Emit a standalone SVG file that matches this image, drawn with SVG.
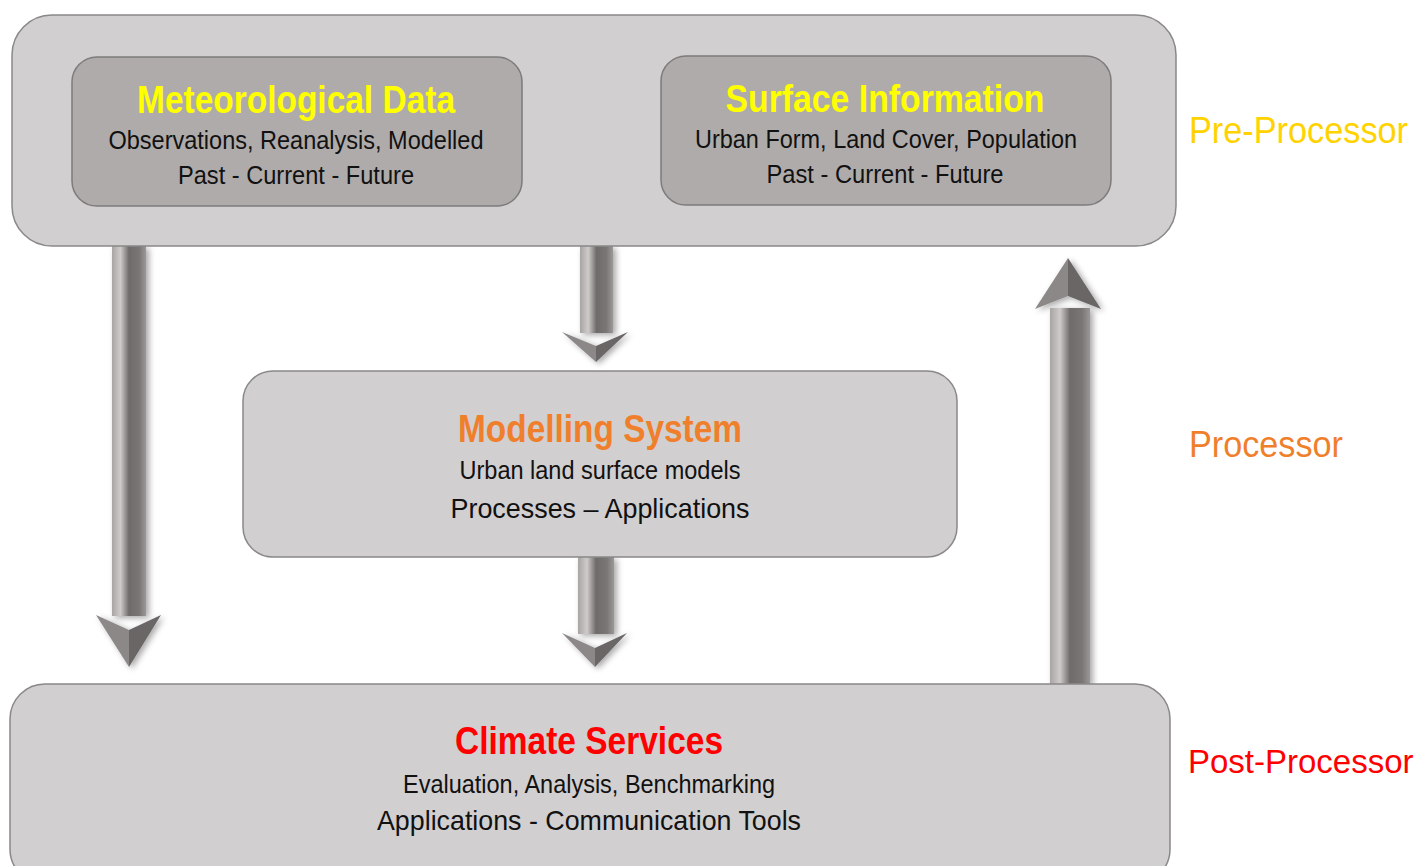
<svg xmlns="http://www.w3.org/2000/svg" width="1428" height="866" viewBox="0 0 1428 866">
<defs>
<linearGradient id="shaft" x1="0" y1="0" x2="1" y2="0">
<stop offset="0" stop-color="#a8a4a4"/>
<stop offset="0.25" stop-color="#cfcbcb"/>
<stop offset="0.5" stop-color="#6f6b6b"/>
<stop offset="0.8" stop-color="#7a7676"/>
<stop offset="1" stop-color="#9c9898"/>
</linearGradient>
<filter id="sh" x="-30%" y="-10%" width="160%" height="120%">
<feGaussianBlur in="SourceAlpha" stdDeviation="3"/>
<feOffset dx="3" dy="2"/>
<feComponentTransfer><feFuncA type="linear" slope="0.35"/></feComponentTransfer>
<feMerge><feMergeNode/><feMergeNode in="SourceGraphic"/></feMerge>
</filter>
</defs>
<style>
.outer{fill:#d1cfd0;stroke:#8a8888;stroke-width:1.5}
.inner{fill:#afabab;stroke:#7d7b7b;stroke-width:1.5}
.t{font-family:"Liberation Sans",Arial,sans-serif;text-anchor:middle}
.h{font-weight:bold;font-size:38px}
.s{font-size:26px;fill:#111}
.s2{font-size:28px;fill:#111}
.side{font-family:"Liberation Sans",Arial,sans-serif;font-size:36px}
.hl{fill:#8c8888}
.hr{fill:#6a6666}
</style>

<g id="connectors" filter="url(#sh)">
<g id="arrow-left">
<rect x="112" y="246" width="34" height="370" fill="url(#shaft)"/>
<polygon class="hl" points="96,615 129,667 129,630"/>
<polygon class="hr" points="161,615 129,667 129,630"/>
</g>
<g id="arrow-mid-top">
<rect x="580" y="246" width="33" height="87" fill="url(#shaft)"/>
<polygon class="hl" points="562,332 596,362 596,346"/>
<polygon class="hr" points="628,332 596,362 596,346"/>
</g>
<g id="arrow-mid-bottom">
<rect x="578" y="557" width="36" height="77" fill="url(#shaft)"/>
<polygon class="hl" points="562,633 595,667 595,648"/>
<polygon class="hr" points="627,633 595,667 595,648"/>
</g>
<g id="arrow-right">
<rect x="1050" y="308" width="40" height="377" fill="url(#shaft)"/>
<polygon class="hl" points="1035,309 1068,258 1068,296"/>
<polygon class="hr" points="1101,309 1068,258 1068,296"/>
</g>
</g>

<g id="pre-processor">
<rect class="outer" x="12" y="15" width="1164" height="231" rx="40"/>
</g>
<g id="meteorological-data">
<rect class="inner" x="72" y="57" width="450" height="149" rx="25"/>
<text class="t h" x="296" y="113" fill="#ffff00" textLength="318" lengthAdjust="spacingAndGlyphs">Meteorological Data</text>
<text class="t s" x="296" y="149" textLength="375" lengthAdjust="spacingAndGlyphs">Observations, Reanalysis,  Modelled</text>
<text class="t s" x="296" y="184" textLength="236" lengthAdjust="spacingAndGlyphs">Past - Current - Future</text>
</g>
<g id="surface-information">
<rect class="inner" x="661" y="56" width="450" height="149" rx="25"/>
<text class="t h" x="885" y="112" fill="#ffff00" textLength="319" lengthAdjust="spacingAndGlyphs">Surface Information</text>
<text class="t s" x="886" y="148" textLength="382" lengthAdjust="spacingAndGlyphs">Urban Form, Land Cover, Population</text>
<text class="t s" x="885" y="183" textLength="237" lengthAdjust="spacingAndGlyphs">Past - Current - Future</text>
</g>
<g id="modelling-system">
<rect class="outer" x="243" y="371" width="714" height="186" rx="30"/>
<text class="t h" x="600" y="442" fill="#f07f2c" textLength="284" lengthAdjust="spacingAndGlyphs">Modelling System</text>
<text class="t s" x="600" y="479" textLength="281" lengthAdjust="spacingAndGlyphs">Urban land surface models</text>
<text class="t s2" x="600" y="518" textLength="299" lengthAdjust="spacingAndGlyphs">Processes – Applications</text>
</g>
<g id="climate-services">
<rect class="outer" x="10" y="684" width="1160" height="200" rx="35"/>
<text class="t h" x="589" y="754" fill="#ff0000" textLength="268" lengthAdjust="spacingAndGlyphs">Climate Services</text>
<text class="t s" x="589" y="793" textLength="372" lengthAdjust="spacingAndGlyphs">Evaluation, Analysis, Benchmarking</text>
<text class="t s2" x="589" y="830" textLength="424" lengthAdjust="spacingAndGlyphs">Applications - Communication Tools</text>
</g>

<g id="labels">
<text class="side" x="1189" y="143" fill="#ffd200" textLength="219" lengthAdjust="spacingAndGlyphs">Pre-Processor</text>
<text class="side" x="1189" y="457" fill="#f07f2c" textLength="154" lengthAdjust="spacingAndGlyphs">Processor</text>
<text class="side" x="1188" y="773" fill="#ff0000" style="font-size:33px">Post-Processor</text>
</g>
</svg>
